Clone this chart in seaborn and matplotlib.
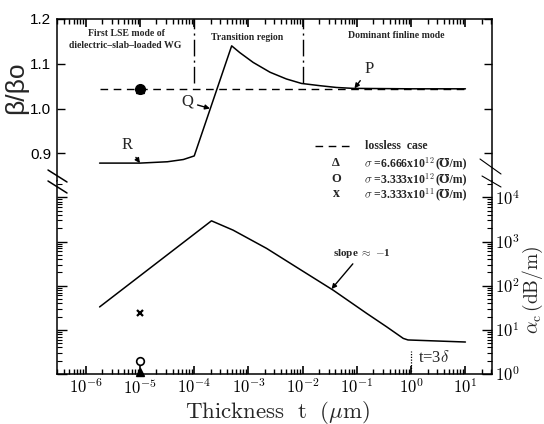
import numpy as np
import pandas as pd
import matplotlib
matplotlib.use("Agg")
import matplotlib.pyplot as plt
import seaborn as sns
from matplotlib.ticker import FixedLocator, FuncFormatter, LogLocator, NullFormatter
from matplotlib.lines import Line2D

# ---------------- data ----------------
t_beta = [1.8e-6, 1e-5, 3.2e-5, 6.3e-5, 1e-4, 4.9e-4, 6.9e-4, 1.22e-3, 2.5e-3,
          5.0e-3, 9.5e-3, 2.07e-2, 4.2e-2, 8.4e-2, 1.0, 10.0]
beta = [0.878, 0.878, 0.881, 0.886, 0.894, 1.140, 1.125, 1.103, 1.081,
        1.066, 1.056, 1.051, 1.047, 1.045, 1.044, 1.044]

t_lossless = [1.8e-6, 10.0]
beta_lossless = [1.043, 1.043]

t_alpha = [1.8e-6, 2.08e-4, 5.2e-4, 2.16e-3, 8.9e-3, 3.65e-2, 0.151, 0.353,
           0.714, 0.873, 10.0]
alpha = [33, 2940, 1810, 698, 234, 79, 23.6, 11.7, 6.4, 5.9, 5.3]

t_sigma = 1e-5
beta_sigma = 1.043
alpha_sigma_11 = 24.5    # x  : 3.333e11
alpha_sigma_12 = 2.0     # o  : 3.333e12
alpha_sigma_12b = 1.13   # triangle : 6.666e12

region_bounds = [1e-4, 1e-2]
region_line_bottom = 1.058
t_skin = 1.0
skin_line_top = 3.3

x_ticks = [1e-6, 1e-5, 1e-4, 1e-3, 1e-2, 1e-1, 1e0, 1e1]
beta_ticks = [0.9, 1.0, 1.1, 1.2]
alpha_ticks = [1, 10, 100, 1000, 10000]

# ---------------- style ----------------
sns.set_theme(style="ticks")
plt.rcParams["font.family"] = ["Liberation Serif", "DejaVu Serif"]
plt.rcParams["mathtext.fontset"] = "cm"
plt.rcParams["axes.linewidth"] = 1.1
plt.rcParams["axes.edgecolor"] = "black"
plt.rcParams["xtick.color"] = "black"
plt.rcParams["ytick.color"] = "black"
plt.rcParams["xtick.direction"] = "in"
plt.rcParams["ytick.direction"] = "in"

W, H = 544, 424
fig = plt.figure(figsize=(W / 100, H / 100), dpi=100)


def fbox(l, t, r, b):
    return [l / W, 1 - b / H, (r - l) / W, (b - t) / H]


def fp(x, y):
    return (x / W, 1 - y / H)


ax_top = fig.add_axes(fbox(57, 19, 492, 181))
ax_bot = fig.add_axes(fbox(57, 181, 492, 374))

df_beta = pd.DataFrame({"t": t_beta, "beta": beta})
df_loss = pd.DataFrame({"t": t_lossless, "beta": beta_lossless})
df_alpha = pd.DataFrame({"t": t_alpha, "alpha": alpha})

sns.lineplot(data=df_beta, x="t", y="beta", ax=ax_top, color="black", lw=1.1,
             estimator=None, sort=False)
sns.lineplot(data=df_loss, x="t", y="beta", ax=ax_top, color="black", lw=1.0,
             estimator=None, sort=False, linestyle=(0, (5.5, 4)))
sns.lineplot(data=df_alpha, x="t", y="alpha", ax=ax_bot, color="black", lw=1.1,
             estimator=None, sort=False)

# markers
ax_top.plot([t_sigma], [beta_sigma], marker="^", ms=6, color="black", ls="none")
ax_top.plot([t_sigma], [beta_sigma], marker="o", ms=7, color="black", ls="none")
ax_bot.plot([t_sigma], [alpha_sigma_11], marker="x", ms=5, mew=1.6,
            color="black", ls="none")
ax_bot.plot([t_sigma], [alpha_sigma_12], marker="o", ms=5.5, mfc="white",
            mec="black", mew=1.2, ls="none")
ax_bot.plot([t_sigma], [alpha_sigma_12b], marker="^", ms=6, color="black",
            ls="none", clip_on=False)

# region separators and skin-depth line
ax_top.vlines(region_bounds, region_line_bottom, 1.2, colors="black", lw=1.0,
              linestyles=[(0, (12, 3, 1.5, 3))])
ax_bot.vlines([t_skin], 1, skin_line_top, colors="black", lw=0.9,
              linestyles=[(0, (1, 1.2))])

# ---------------- axes ----------------
fmt_pow = FuncFormatter(lambda v, p: r"$10^{%d}$" % round(np.log10(v)))
for a in (ax_top, ax_bot):
    a.set_xscale("log")
    a.set_xlim(10 ** -6.53, 10 ** 1.49)
    a.xaxis.set_major_locator(FixedLocator(x_ticks))
    a.xaxis.set_minor_locator(LogLocator(base=10, subs=np.arange(2, 10), numticks=30))
    a.xaxis.set_minor_formatter(NullFormatter())
    a.set_xlabel("")
    a.set_ylabel("")
    a.set_facecolor("white")
    a.grid(False)

ax_top.set_ylim(0.838, 1.2)
ax_bot.set_yscale("log")
ax_bot.set_ylim(1, 10 ** 4.37)

ax_top.spines["bottom"].set_visible(False)
ax_bot.spines["top"].set_visible(False)

ax_top.xaxis.set_major_formatter(NullFormatter())
ax_bot.xaxis.set_major_formatter(fmt_pow)
ax_top.xaxis.set_ticks_position("top")
ax_bot.xaxis.set_ticks_position("bottom")

ax_top.yaxis.set_major_locator(FixedLocator(beta_ticks))
ax_top.yaxis.set_major_formatter(FuncFormatter(lambda v, p: "%.1f" % v))
ax_bot.yaxis.set_major_locator(FixedLocator(alpha_ticks))
ax_bot.yaxis.set_minor_locator(LogLocator(base=10, subs=np.arange(2, 10), numticks=30))
ax_bot.yaxis.set_minor_formatter(NullFormatter())
ax_bot.yaxis.set_major_formatter(fmt_pow)

ax_top.tick_params(axis="x", which="both", direction="in", top=True, bottom=False,
                   labelbottom=False, labeltop=False, color="black")
ax_top.tick_params(axis="x", which="major", length=6, width=1.2)
ax_top.tick_params(axis="x", which="minor", length=3.5, width=1.0)
ax_top.tick_params(axis="y", which="major", direction="in", left=True, right=True,
                   labelleft=True, labelright=False, length=6, width=1.0, pad=4,
                   labelsize=11)
ax_top.tick_params(axis="y", which="minor", left=False, right=False)
for lab in ax_top.get_yticklabels():
    lab.set_fontfamily(["Liberation Sans", "DejaVu Sans"])

ax_bot.tick_params(axis="x", which="both", direction="in", bottom=True, top=False,
                   labelbottom=True, labelsize=12, pad=3, color="black")
ax_bot.tick_params(axis="x", which="major", length=6, width=1.2)
ax_bot.tick_params(axis="x", which="minor", length=3.5, width=1.0)
ax_bot.tick_params(axis="y", which="both", direction="in", left=True, right=True,
                   labelleft=False, labelright=True, labelsize=12, pad=2)
ax_bot.tick_params(axis="y", which="major", length=7, width=1.0)
ax_bot.tick_params(axis="y", which="minor", length=3.5, width=0.8)

# axis titles
fig.text(*fp(277, 412), r"$\mathrm{Thickness\ \ t\ \ (}\mu\mathrm{m)}$",
         ha="center", va="center", fontsize=16.5)
fig.text(*fp(533, 290), r"$\alpha_{\rm c}\,\mathrm{(dB/m)}$", rotation=90,
         ha="center", va="center", fontsize=14)
fig.text(*fp(16, 88), "β/βo", rotation=90, ha="center", va="center",
         fontsize=19, family=["Liberation Sans", "DejaVu Sans"])

# axis-break marks
for (x0, y0, x1, y1) in [(48, 170, 67, 182), (48, 181, 67, 193)]:
    fig.add_artist(Line2D([x0 / W, x1 / W], [1 - y0 / H, 1 - y1 / H],
                          transform=fig.transFigure, color="black", lw=1.1))

# region labels
rkw = dict(ha="center", va="center", fontsize=7, fontweight="bold")
fig.text(*fp(126, 33), "First LSE mode of", **rkw)
fig.text(*fp(125, 46), "dielectric\u2013slab\u2013loaded WG", **rkw)
fig.text(*fp(247, 38), "Transition region", **rkw)
fig.text(*fp(396, 35), "Dominant finline mode", **rkw)

# point annotations
akw = dict(textcoords="figure pixels", ha="center", va="center", fontsize=12,
           arrowprops=dict(arrowstyle="-|>", color="black", lw=1.0,
                           mutation_scale=7, shrinkA=1, shrinkB=0))
ax_top.annotate("R", xy=(t_beta[1], beta[1]), xytext=(127, H - 145), **akw)
ax_top.annotate("Q", xy=(1.95e-4, 1.0), xytext=(187, H - 102), **akw)
ax_top.annotate("P", xy=(9e-2, 1.045), xytext=(369, H - 69), **akw)
skw = dict(akw)
skw["fontsize"] = 8
ax_bot.annotate(r"slope $\approx$ $-$1", xy=(3.4e-2, 84), xytext=(362, H - 253),
                fontweight="bold", **skw)

fig.text(*fp(418, 358), r"t=3$\delta$", ha="left", va="center", fontsize=12)

# legend (drawn by hand)
fig.add_artist(Line2D([315 / W, 351 / W], [1 - 146 / H, 1 - 146 / H],
                      transform=fig.transFigure, color="black", lw=1.0,
                      linestyle=(0, (5.5, 4))))
lkw = dict(ha="left", va="center", fontsize=8.5, fontweight="bold")
fig.text(*fp(365, 146), "lossless  case", **lkw)
fig.text(*fp(336, 163), "Δ", ha="center", va="center", fontsize=9, fontweight="bold")
fig.text(*fp(336, 179), "O", ha="center", va="center", fontsize=9, fontweight="bold")
fig.text(*fp(336, 194), "x", ha="center", va="center", fontsize=10, fontweight="bold")

renderer = fig.canvas.get_renderer()
for yy, s in [(163, r"$\sigma$ =6.666x10$^{12}$"),
              (179, r"$\sigma$ =3.333x10$^{12}$"),
              (194, r"$\sigma$ =3.333x10$^{11}$")]:
    tx = fig.text(*fp(364, yy), s, **lkw)
    bb = tx.get_window_extent(renderer)
    fig.text((bb.x1 + 1) / W, 1 - yy / H, "(\u2127/m)", ha="left", va="center",
             fontsize=8.5, fontweight="bold",
             family=["Liberation Serif", "DejaVu Serif", "DejaVu Sans"])

for (x0, y0, x1, y1) in [(480, 159, 501, 174), (482, 176, 501, 187)]:
    fig.add_artist(Line2D([x0 / W, x1 / W], [1 - y0 / H, 1 - y1 / H],
                          transform=fig.transFigure, color="black", lw=0.8))

fig.savefig("out.png", dpi=100, facecolor="white")
